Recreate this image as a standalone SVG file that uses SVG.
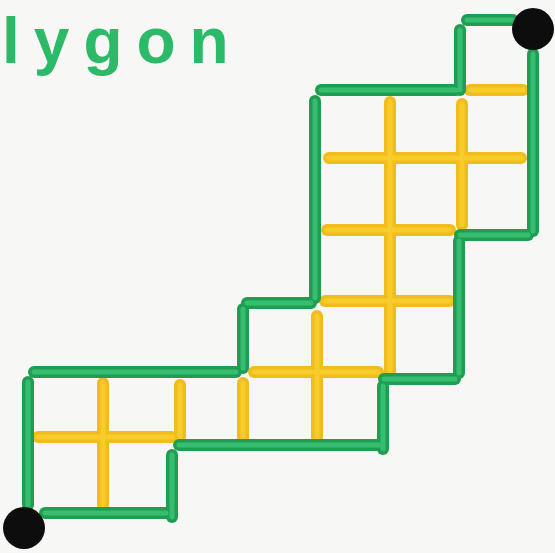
<svg xmlns="http://www.w3.org/2000/svg" width="555" height="553" viewBox="0 0 555 553">
<style>
.g{stroke:#1f9e52;stroke-width:12;stroke-linecap:round;fill:none}
.gh{stroke:#3cc57a;stroke-width:5;stroke-linecap:round;fill:none;opacity:.8}
.y{stroke:#f0bd1c;stroke-width:12;stroke-linecap:round;fill:none}
.yh{stroke:#f8cf2e;stroke-width:5;stroke-linecap:round;fill:none;opacity:.8}
.dot{fill:#0d0d0d}
.t{font-family:"Liberation Sans",Arial,sans-serif;font-weight:bold;font-size:64px;fill:#2dba68;letter-spacing:14px}
</style>
<defs>
<g id="ylines">
<path d="M470 90H523"/>
<path d="M390 102V372"/>
<path d="M462 104V225"/>
<path d="M329 158H521"/>
<path d="M327 230H450"/>
<path d="M325 301H450"/>
<path d="M317 316V438"/>
<path d="M254 372H378"/>
<path d="M243 383V442"/>
<path d="M180 385V437"/>
<path d="M103 383V505"/>
<path d="M38 437H172"/>
</g>
<g id="glines">
<path d="M467 20H513"/>
<path d="M460 30V90"/>
<path d="M321 90H456"/>
<path d="M315 101V298"/>
<path d="M533 54V231"/>
<path d="M460 235H528"/>
<path d="M459 241V373"/>
<path d="M384 379H455"/>
<path d="M383 386V449"/>
<path d="M179 445H379"/>
<path d="M172 455V517"/>
<path d="M45 513H166"/>
<path d="M28 382V505"/>
<path d="M34 372H236"/>
<path d="M243 309V368"/>
<path d="M247 303H311"/>
</g>
</defs>
<rect width="555" height="553" fill="#f7f7f6"/>
<text class="t" x="2" y="63">lygon</text>
<g id="interior">
<use href="#ylines" class="y"/>
<use href="#ylines" class="yh"/>
</g>
<g id="outline">
<use href="#glines" class="g"/>
<use href="#glines" class="gh"/>
</g>
<g id="dots">
<circle class="dot" cx="533" cy="29" r="21"/>
<circle class="dot" cx="24" cy="528" r="21"/>
</g>
</svg>
